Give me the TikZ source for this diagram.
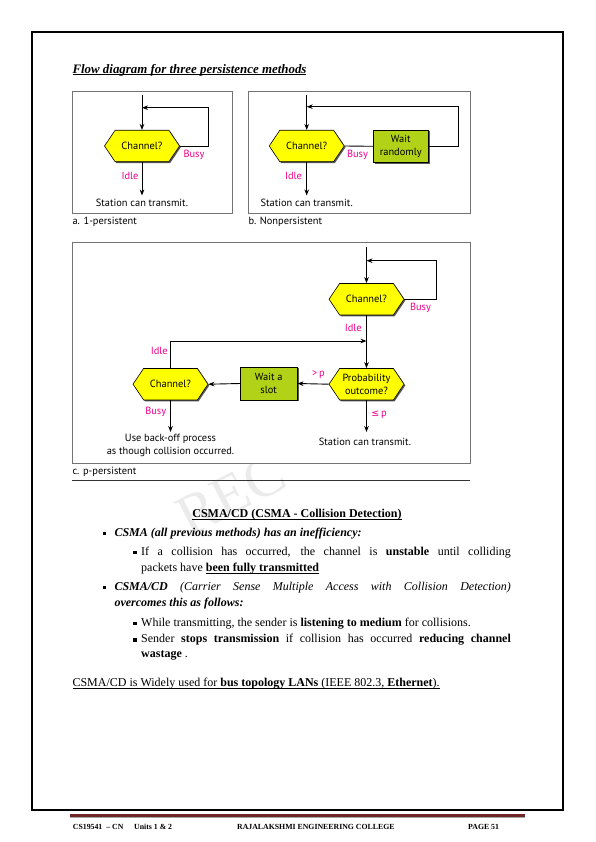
\documentclass[tikz,border=0pt]{standalone}
\usepackage{fontspec}
\setmainfont{Liberation Serif}
\newfontfamily\diagfont{PT Sans}
\newfontfamily\symfont{DejaVu Sans}
\usetikzlibrary{shapes.symbols,shadows,arrows.meta}
\definecolor{hexyellow}{RGB}{255,255,0}
\definecolor{waitgreen}{RGB}{178,210,24}
\definecolor{lblpink}{RGB}{236,0,140}
\definecolor{footmaroon}{RGB}{110,38,38}
\newcommand\dgf{\diagfont\fontsize{10.4}{12.4}\selectfont}
\newcommand\ulx[1]{\setbox0\hbox{#1}\leavevmode\rlap{\rule[-1.7pt]{\wd0}{0.6pt}}\copy0}
\begin{document}
\begin{tikzpicture}[x=1pt,y=-1pt,
 hex/.style={signal, signal to=east and west, signal pointer angle=112, draw=black, line width=0.6pt, fill=hexyellow, minimum width=75pt, minimum height=31.5pt, inner sep=0pt, font=\dgf, align=center, drop shadow={shadow xshift=1.3pt, shadow yshift=-1.3pt, fill=black!65, opacity=1}},
 waitbox/.style={rectangle, draw=black, line width=0.6pt, fill=waitgreen, minimum width=55pt, minimum height=32.5pt, inner sep=0pt, font=\dgf, align=center, drop shadow={shadow xshift=1.3pt, shadow yshift=-1.3pt, fill=black!65, opacity=1}},
 lbl/.style={text=lblpink, font=\dgf, inner sep=0pt},
 plain/.style={font=\dgf, inner sep=0pt, align=center},
 caption/.style={font=\dgf, inner sep=0pt, anchor=west},
 frame/.style={draw=black!55, line width=0.8pt, fill=white},
 link/.style={line width=0.9pt},
 arr/.style={line width=0.9pt, -{Stealth[length=6pt,width=4.6pt]}},
 body/.style={font=\fontsize{12}{14}\selectfont, inner sep=0pt, anchor=west},
 sq/.style={rectangle, fill=black, minimum size=3.6pt, inner sep=0pt},
 foot/.style={font=\bfseries\fontsize{7.8}{9}\selectfont, inner sep=0pt, anchor=west}
]
\useasboundingbox (0,0) rectangle (596,842);
\fill[white] (0,0) rectangle (596,842);
% page border
\draw[line width=1.5pt] (32,32) rectangle (563,810);

% title
\node[body, font=\fontsize{12.9}{15}\selectfont] (title) at (72.3,70) {\ulx{\textbf{\textit{Flow diagram for three persistence methods}}}};

% ---------- diagram a ----------
\draw[frame] (72.3,91) rectangle (232,213);
\node[hex] (ah) at (142,146) {Channel?};
\coordinate (a0) at (142,95);
\coordinate (aJ) at (142,107.7);
\coordinate (aR) at (208,107.7);
\coordinate (aE) at (142,195.5);
\draw[arr] (a0) -- (ah.north);
\draw[arr] (ah.east) -| (aR) -- (aJ);
\draw[arr] (ah.south) -- (aE);
\node[lbl] (abusy) at (194,155) {Busy};
\node[lbl] (aidle) at (130,175.7) {Idle};
\node[plain] (atx) at (142,202.5) {Station can transmit.};
\node[caption] (acap) at (72.3,221.5) {a. 1-persistent};

% ---------- diagram b ----------
\draw[frame] (248.3,91) rectangle (470,213);
\node[hex] (bh) at (306.7,146) {Channel?};
\node[waitbox] (bw) at (400.8,146.3) {Wait\\randomly};
\coordinate (b0) at (306.7,95);
\coordinate (bJ) at (306.7,106.7);
\coordinate (bR) at (458,106.7);
\coordinate (bE) at (306.7,195.5);
\draw[arr] (b0) -- (bh.north);
\draw[link] (bh.east) -- (bw.west);
\draw[arr] (bw.east) -| (bR) -- (bJ);
\draw[arr] (bh.south) -- (bE);
\node[lbl] (bbusy) at (357.5,154.5) {Busy};
\node[lbl] (bidle) at (293.5,176) {Idle};
\node[plain] (btx) at (306.7,203) {Station can transmit.};
\node[caption] (bcap) at (248.3,221.5) {b. Nonpersistent};

% watermark
\node[rotate=27, text=black!8, font=\fontsize{58}{58}\selectfont, inner sep=0pt] (wm) at (231,495) {REC};

% ---------- diagram c ----------
\draw[frame] (72.3,242.7) rectangle (470,463.3);
\node[hex] (c1) at (366.5,299.2) {Channel?};
\node[hex] (cp) at (366.5,384.2) {Probability\\outcome?};
\node[waitbox, minimum width=57pt, minimum height=33pt] (cw) at (268.7,383.5) {Wait a\\slot};
\node[hex] (c2) at (170.5,384.2) {Channel?};
\coordinate (c0) at (366.5,247.3);
\coordinate (cJ) at (366.5,260.7);
\coordinate (cR) at (436.7,260.7);
\coordinate (cK) at (366.5,341);
\coordinate (cE1) at (170.5,432);
\coordinate (cE2) at (366.5,432);
\draw[arr] (c0) -- (c1.north);
\draw[arr] (c1.east) -| (cR) -- (cJ);
\draw[arr] (c1.south) -- (cp.north);
\draw[arr] (c2.north) |- (cK);
\draw[arr] (cp.west) -- (cw.east);
\draw[arr] (cw.west) -- (c2.east);
\draw[arr] (c2.south) -- (cE1);
\draw[arr] (cp.south) -- (cE2);
\node[lbl] (cbusy1) at (420.5,307.7) {Busy};
\node[lbl] (cidle1) at (353.3,328.3) {Idle};
\node[lbl] (cidle2) at (159.3,350.7) {Idle};
\node[lbl] (cgt) at (318.5,375) {>\,p};
\node[lbl] (cbusy2) at (155.7,412.3) {Busy};
\node[lbl] (cle) at (379,415) {{\symfont\fontsize{9.5}{11}\selectfont ≤}\,p};
\node[plain] (cback) at (170.5,445.5) {Use back-off process\\as though collision occurred.};
\node[plain] (ctx) at (365,441.7) {Station can transmit.};
\node[caption] (ccap) at (72.3,471.7) {c. p-persistent};
\draw[line width=1.1pt, draw=black!80] (72.3,480.7) -- (470,480.7);

% ---------- text ----------
\node[body, anchor=center] (head) at (297,515) {\ulx{\textbf{CSMA/CD (CSMA - Collision Detection)}}};
\node[sq] (s1) at (104.3,533.3) {};
\node[body] (t1) at (114.3,533.3) {\textbf{\textit{CSMA (all previous methods) has an inefficiency:}}};
\node[sq] (s11) at (135,552.3) {};
\node[body] (t11) at (141,552.3) {\makebox[369.7pt][s]{If a collision has occurred, the channel is \textbf{unstable} until colliding}};
\node[body] (t12) at (141,569) {packets have \ulx{\textbf{been fully transmitted}}};
\node[sq] (s2) at (104.3,587.3) {};
\node[body] (t2) at (114.3,587.3) {\makebox[396.4pt][s]{\textbf{\textit{CSMA/CD}} \textit{(Carrier Sense Multiple Access with Collision Detection)}}};
\node[body] (t22) at (114.3,603.3) {\textbf{\textit{overcomes this as follows:}}};
\node[sq] (s21) at (135,623.3) {};
\node[body] (t21) at (141,623.3) {While transmitting, the sender is \textbf{listening to medium} for collisions.};
\node[sq] (s22) at (135,640) {};
\node[body] (t23) at (141,640) {\makebox[369.7pt][s]{Sender \textbf{stops transmission} if collision has occurred \textbf{reducing channel}}};
\node[body] (t24) at (141,655.5) {\textbf{wastage} .};
\node[body] (last) at (72.3,684) {\ulx{CSMA/CD is Widely used for \textbf{bus topology LANs} (IEEE 802.3, \textbf{Ethernet}).}};

% ---------- footer ----------
\draw[line width=2.4pt, draw=footmaroon] (70,815.3) -- (525,815.3);
\draw[line width=0.8pt, draw=black!35] (70,817.3) -- (525,817.3);
\node[foot] (f1) at (72.7,826.5) {CS19541 \ – CN};
\node[foot] (f2) at (134,826.5) {Units 1 \& 2};
\node[foot] (f3) at (237,826.5) {RAJALAKSHMI ENGINEERING COLLEGE};
\node[foot] (f4) at (468,826.5) {PAGE 51};
\end{tikzpicture}
\end{document}
